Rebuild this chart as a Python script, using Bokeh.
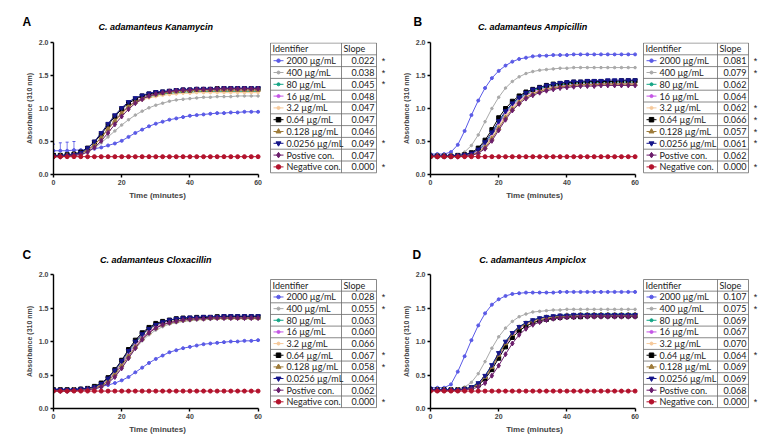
from bokeh.plotting import figure
from bokeh.layouts import column, row
from bokeh.models import Range1d, NumeralTickFormatter, FixedTicker
from bokeh.core.properties import value
from bokeh.embed import file_html
from bokeh.resources import INLINE

# ---------------- data ----------------
t = [0, 2, 4, 6, 8, 10, 12, 14, 16, 18, 20, 22, 24, 26, 28, 30,
     32, 34, 36, 38, 40, 42, 44, 46, 48, 50, 52, 54, 56, 58, 60]

identifiers = ["2000 µg/mL", "400 µg/mL", "80 µg/mL", "16 µg/mL", "3.2 µg/mL",
               "0.64 µg/mL", "0.128 µg/mL", "0.0256 µg/mL", "Postive con.", "Negative con."]

panel_letters = ["A", "B", "C", "D"]
panel_titles = ["C. adamanteus Kanamycin", "C. adamanteus Ampicillin",
                "C. adamanteus Cloxacillin", "C. adamanteus Ampiclox"]

# Panel A: Kanamycin
kan_2000 = [0.36,0.36,0.36,0.37,0.37,0.38,0.39,0.41,0.44,0.47,0.51,0.57,0.63,0.68,0.73,0.77,0.80,0.83,0.85,0.87,0.89,0.90,0.91,0.92,0.93,0.93,0.94,0.94,0.95,0.95,0.95]
kan_2000_err = [0.10,0.12,0.13,0.13,0.0,0.0,0.0,0.0,0.0,0.0,0.0,0.0,0.0,0.0,0.0,0.0,0.0,0.0,0.0,0.0,0.0,0.0,0.0,0.0,0.0,0.0,0.0,0.0,0.0,0.0,0.0]
kan_400 = [0.27,0.27,0.28,0.29,0.31,0.34,0.40,0.48,0.57,0.66,0.75,0.83,0.90,0.96,1.01,1.05,1.08,1.11,1.13,1.14,1.15,1.16,1.17,1.17,1.18,1.18,1.18,1.19,1.19,1.19,1.19]
kan_80 = [0.28,0.28,0.29,0.30,0.32,0.37,0.45,0.56,0.69,0.82,0.93,1.03,1.10,1.15,1.18,1.20,1.22,1.23,1.24,1.25,1.25,1.25,1.26,1.26,1.26,1.26,1.26,1.26,1.26,1.26,1.26]
kan_16 = [0.28,0.28,0.29,0.30,0.32,0.37,0.45,0.56,0.69,0.82,0.94,1.04,1.11,1.16,1.20,1.22,1.24,1.25,1.26,1.27,1.27,1.28,1.28,1.28,1.28,1.28,1.28,1.28,1.28,1.28,1.28]
kan_3p2 = [0.28,0.28,0.29,0.30,0.32,0.36,0.44,0.55,0.68,0.80,0.91,1.01,1.08,1.13,1.16,1.18,1.20,1.21,1.22,1.23,1.23,1.24,1.24,1.24,1.24,1.24,1.24,1.24,1.24,1.24,1.24]
kan_0p64 = [0.29,0.29,0.30,0.31,0.34,0.40,0.49,0.61,0.75,0.88,0.99,1.08,1.14,1.19,1.22,1.24,1.25,1.26,1.27,1.28,1.28,1.29,1.29,1.29,1.30,1.30,1.30,1.30,1.30,1.30,1.30]
kan_0p128 = [0.28,0.28,0.29,0.30,0.32,0.37,0.45,0.56,0.69,0.81,0.93,1.03,1.10,1.15,1.19,1.21,1.23,1.25,1.26,1.27,1.27,1.28,1.28,1.28,1.28,1.28,1.28,1.28,1.28,1.28,1.28]
kan_0p0256 = [0.28,0.28,0.29,0.30,0.33,0.40,0.50,0.63,0.77,0.90,1.01,1.10,1.16,1.20,1.23,1.25,1.26,1.27,1.28,1.29,1.29,1.30,1.30,1.30,1.30,1.31,1.31,1.31,1.31,1.31,1.31]
kan_pos = [0.27,0.27,0.28,0.29,0.30,0.34,0.41,0.51,0.63,0.76,0.88,0.99,1.08,1.14,1.19,1.22,1.24,1.26,1.27,1.28,1.28,1.29,1.29,1.29,1.30,1.30,1.30,1.30,1.30,1.30,1.30]
kan_neg = [0.27,0.27,0.27,0.27,0.27,0.27,0.27,0.27,0.27,0.27,0.27,0.27,0.27,0.27,0.27,0.27,0.27,0.27,0.27,0.27,0.27,0.27,0.27,0.27,0.27,0.27,0.27,0.27,0.27,0.27,0.27]
kan_slope = [0.022, 0.038, 0.045, 0.048, 0.047, 0.047, 0.046, 0.049, 0.047, 0.000]
kan_sig = [1, 1, 1, 0, 0, 0, 0, 1, 0, 1]

# Panel B: Ampicillin
amp_2000 = [0.31,0.31,0.31,0.34,0.45,0.66,0.90,1.12,1.31,1.46,1.57,1.65,1.71,1.75,1.77,1.79,1.80,1.80,1.81,1.81,1.81,1.82,1.82,1.82,1.82,1.82,1.82,1.82,1.82,1.82,1.82]
amp_400 = [0.29,0.29,0.29,0.29,0.30,0.34,0.44,0.60,0.80,1.00,1.17,1.31,1.41,1.48,1.53,1.56,1.58,1.59,1.60,1.61,1.61,1.62,1.62,1.62,1.62,1.62,1.62,1.62,1.62,1.62,1.62]
amp_80 = [0.28,0.28,0.28,0.28,0.28,0.29,0.31,0.36,0.46,0.61,0.78,0.94,1.06,1.15,1.22,1.27,1.30,1.33,1.35,1.36,1.37,1.38,1.39,1.39,1.39,1.40,1.40,1.40,1.40,1.40,1.40]
amp_16 = [0.28,0.28,0.28,0.28,0.28,0.29,0.31,0.35,0.45,0.59,0.76,0.92,1.04,1.13,1.20,1.25,1.28,1.31,1.33,1.34,1.35,1.36,1.37,1.37,1.37,1.38,1.38,1.38,1.38,1.38,1.38]
amp_3p2 = [0.28,0.28,0.28,0.28,0.28,0.29,0.30,0.34,0.43,0.57,0.73,0.89,1.02,1.11,1.18,1.23,1.27,1.30,1.32,1.33,1.34,1.35,1.36,1.36,1.36,1.37,1.37,1.37,1.37,1.37,1.37]
amp_0p64 = [0.28,0.28,0.28,0.28,0.29,0.30,0.33,0.40,0.52,0.68,0.86,1.00,1.11,1.19,1.25,1.29,1.32,1.35,1.37,1.38,1.39,1.40,1.40,1.41,1.41,1.41,1.41,1.41,1.42,1.42,1.42]
amp_0p128 = [0.28,0.28,0.28,0.28,0.28,0.29,0.30,0.33,0.41,0.54,0.70,0.86,0.99,1.09,1.17,1.22,1.26,1.29,1.31,1.33,1.34,1.35,1.36,1.36,1.36,1.37,1.37,1.37,1.37,1.37,1.37]
amp_0p0256 = [0.28,0.28,0.28,0.28,0.29,0.30,0.32,0.38,0.49,0.64,0.81,0.96,1.08,1.17,1.24,1.29,1.32,1.35,1.37,1.39,1.40,1.41,1.41,1.42,1.42,1.42,1.43,1.43,1.43,1.43,1.43]
amp_pos = [0.27,0.27,0.27,0.27,0.27,0.28,0.29,0.32,0.39,0.51,0.67,0.83,0.97,1.07,1.15,1.20,1.24,1.27,1.29,1.31,1.32,1.33,1.34,1.34,1.34,1.35,1.35,1.35,1.35,1.35,1.35]
amp_neg = [0.27,0.27,0.27,0.27,0.27,0.27,0.27,0.27,0.27,0.27,0.27,0.27,0.27,0.27,0.27,0.27,0.27,0.27,0.27,0.27,0.27,0.27,0.27,0.27,0.27,0.27,0.27,0.27,0.27,0.27,0.27]
amp_slope = [0.081, 0.079, 0.062, 0.064, 0.062, 0.066, 0.057, 0.061, 0.062, 0.000]
amp_sig = [1, 1, 0, 0, 1, 1, 1, 1, 0, 1]

# Panel C: Cloxacillin
clx_2000 = [0.29,0.29,0.29,0.29,0.30,0.30,0.31,0.33,0.35,0.38,0.42,0.47,0.54,0.61,0.68,0.74,0.79,0.84,0.87,0.90,0.92,0.94,0.96,0.97,0.98,0.99,1.00,1.00,1.01,1.01,1.02]
clx_400 = [0.27,0.27,0.27,0.28,0.28,0.29,0.30,0.33,0.39,0.49,0.61,0.75,0.89,1.01,1.10,1.17,1.22,1.26,1.28,1.30,1.31,1.32,1.33,1.33,1.34,1.34,1.34,1.34,1.34,1.34,1.34]
clx_80 = [0.28,0.28,0.28,0.28,0.29,0.30,0.32,0.36,0.44,0.55,0.69,0.84,0.98,1.09,1.18,1.24,1.28,1.31,1.33,1.34,1.35,1.35,1.36,1.36,1.36,1.37,1.37,1.37,1.37,1.37,1.37]
clx_16 = [0.28,0.28,0.28,0.28,0.29,0.29,0.31,0.35,0.42,0.53,0.66,0.81,0.95,1.06,1.15,1.21,1.26,1.29,1.31,1.33,1.34,1.34,1.35,1.35,1.35,1.36,1.36,1.36,1.36,1.36,1.36]
clx_3p2 = [0.28,0.28,0.28,0.28,0.29,0.30,0.32,0.36,0.44,0.55,0.70,0.85,0.99,1.10,1.18,1.24,1.28,1.31,1.33,1.34,1.35,1.35,1.35,1.36,1.36,1.36,1.36,1.36,1.36,1.36,1.36]
clx_0p64 = [0.28,0.28,0.28,0.28,0.29,0.30,0.33,0.38,0.46,0.58,0.72,0.88,1.02,1.13,1.21,1.27,1.30,1.32,1.34,1.35,1.35,1.36,1.36,1.36,1.37,1.37,1.37,1.37,1.37,1.37,1.37]
clx_0p128 = [0.27,0.27,0.27,0.28,0.28,0.29,0.31,0.34,0.41,0.51,0.64,0.78,0.92,1.04,1.13,1.20,1.25,1.28,1.30,1.32,1.33,1.34,1.34,1.35,1.35,1.35,1.35,1.35,1.35,1.35,1.35]
clx_0p0256 = [0.28,0.28,0.28,0.28,0.29,0.30,0.32,0.37,0.45,0.57,0.71,0.86,1.00,1.11,1.19,1.25,1.29,1.32,1.34,1.35,1.36,1.36,1.37,1.37,1.37,1.38,1.38,1.38,1.38,1.38,1.38]
clx_pos = [0.26,0.26,0.26,0.27,0.27,0.28,0.29,0.32,0.38,0.47,0.60,0.75,0.90,1.03,1.13,1.20,1.25,1.28,1.30,1.32,1.33,1.34,1.34,1.35,1.35,1.35,1.35,1.35,1.35,1.35,1.35]
clx_neg = [0.26,0.26,0.26,0.26,0.26,0.26,0.26,0.26,0.26,0.26,0.26,0.26,0.26,0.26,0.26,0.26,0.26,0.26,0.26,0.26,0.26,0.26,0.26,0.26,0.26,0.26,0.26,0.26,0.26,0.26,0.26]
clx_slope = [0.028, 0.055, 0.063, 0.060, 0.066, 0.067, 0.058, 0.064, 0.062, 0.000]
clx_sig = [1, 1, 0, 0, 0, 1, 1, 0, 0, 1]

# Panel D: Ampiclox
apx_2000 = [0.31,0.31,0.31,0.36,0.55,0.78,1.02,1.24,1.42,1.55,1.63,1.68,1.71,1.72,1.73,1.73,1.73,1.73,1.73,1.74,1.74,1.74,1.74,1.74,1.74,1.74,1.74,1.74,1.74,1.74,1.74]
apx_400 = [0.28,0.28,0.28,0.28,0.29,0.32,0.39,0.52,0.70,0.90,1.07,1.20,1.30,1.37,1.41,1.44,1.45,1.46,1.47,1.47,1.48,1.48,1.48,1.48,1.48,1.48,1.48,1.48,1.48,1.48,1.48]
apx_80 = [0.28,0.28,0.28,0.28,0.28,0.29,0.32,0.38,0.49,0.64,0.82,0.99,1.12,1.22,1.28,1.32,1.35,1.37,1.38,1.39,1.40,1.40,1.41,1.41,1.41,1.41,1.41,1.41,1.41,1.41,1.41]
apx_16 = [0.28,0.28,0.28,0.28,0.28,0.29,0.31,0.36,0.46,0.61,0.78,0.95,1.09,1.19,1.26,1.30,1.33,1.35,1.37,1.38,1.38,1.39,1.39,1.39,1.39,1.39,1.39,1.39,1.39,1.39,1.39]
apx_3p2 = [0.28,0.28,0.28,0.28,0.28,0.29,0.31,0.36,0.46,0.61,0.79,0.96,1.10,1.20,1.26,1.30,1.33,1.35,1.36,1.37,1.37,1.38,1.38,1.38,1.38,1.38,1.38,1.38,1.38,1.38,1.38]
apx_0p64 = [0.28,0.28,0.28,0.28,0.28,0.29,0.31,0.35,0.44,0.58,0.75,0.92,1.06,1.16,1.23,1.28,1.31,1.33,1.35,1.36,1.37,1.37,1.37,1.38,1.38,1.38,1.38,1.38,1.38,1.38,1.38]
apx_0p128 = [0.28,0.28,0.28,0.28,0.28,0.29,0.31,0.36,0.47,0.62,0.80,0.97,1.11,1.21,1.27,1.31,1.34,1.36,1.37,1.38,1.39,1.39,1.40,1.40,1.40,1.40,1.40,1.40,1.40,1.40,1.40]
apx_0p0256 = [0.28,0.28,0.28,0.28,0.28,0.29,0.32,0.38,0.49,0.65,0.83,1.00,1.13,1.22,1.28,1.32,1.35,1.37,1.38,1.39,1.39,1.40,1.40,1.40,1.40,1.40,1.40,1.40,1.40,1.40,1.40]
apx_pos = [0.27,0.27,0.27,0.27,0.27,0.28,0.29,0.32,0.38,0.49,0.64,0.81,0.97,1.10,1.19,1.25,1.29,1.32,1.34,1.35,1.36,1.36,1.37,1.37,1.37,1.37,1.37,1.37,1.37,1.37,1.37]
apx_neg = [0.26,0.26,0.26,0.26,0.26,0.26,0.26,0.26,0.26,0.26,0.26,0.26,0.26,0.26,0.26,0.26,0.26,0.26,0.26,0.26,0.26,0.26,0.26,0.26,0.26,0.26,0.26,0.26,0.26,0.26,0.26]
apx_slope = [0.107, 0.075, 0.069, 0.067, 0.070, 0.064, 0.069, 0.069, 0.068, 0.000]
apx_sig = [1, 1, 0, 0, 0, 1, 0, 0, 0, 1]

x_ticks = [0, 20, 40, 60]
y_ticks = [0.0, 0.5, 1.0, 1.5, 2.0]

# ---------------- styles ----------------
colors = ["#5a5ae6", "#a9a9a9", "#14a585", "#c455e6", "#f6c99a",
          "#000000", "#9e7b3a", "#16168a", "#6b1d6b", "#b3122c"]
markers = ["circle", "circle", "circle", "circle", "circle",
           "square", "triangle", "inverted_triangle", "diamond", "circle"]
msizes = [3, 2.5, 2.5, 2.5, 2.5, 4, 4.5, 4.5, 5, 4]

AX_FONT = "Liberation Sans"
TB_FONT = "Lato"
W_TOTAL = 776


def blank(W, H, bl=0, br=0, bt=0, bb=0, yr=None):
    f = figure(width=W, height=H, output_backend="svg", toolbar_location=None,
               x_range=Range1d(0, W), y_range=yr if yr is not None else Range1d(H, 0),
               x_axis_location=None, y_axis_location=None,
               min_border_left=bl, min_border_right=br,
               min_border_top=bt, min_border_bottom=bb,
               background_fill_color="white", border_fill_color="white")
    f.outline_line_color = None
    f.grid.visible = False
    return f


def make_header(H, letters, titles, letter_x, letter_y, title_x, title_y):
    h = blank(W_TOTAL, H)
    h.text(x=letter_x, y=[letter_y] * len(letters), text=letters,
           text_font=value(AX_FONT), text_font_style="bold", text_font_size="12px",
           text_baseline="middle", text_align="left", text_color="black")
    h.text(x=title_x, y=[title_y] * len(titles), text=titles,
           text_font=value(AX_FONT), text_font_style="bold italic", text_font_size="9px",
           text_baseline="middle", text_align="center", text_color="black")
    return h


def make_plot(series, W, H, bl, bt, fw, fh, err=None):
    p = figure(width=W, height=H, output_backend="svg", toolbar_location=None,
               x_range=Range1d(0, 61), y_range=Range1d(0, 2),
               min_border_left=bl, min_border_top=bt,
               min_border_right=W - bl - fw, min_border_bottom=H - bt - fh,
               background_fill_color="white", border_fill_color="white")
    p.outline_line_color = None
    p.grid.visible = False
    p.xaxis.bounds = (0, 60)
    p.xaxis.ticker = FixedTicker(ticks=x_ticks)
    p.yaxis.ticker = FixedTicker(ticks=y_ticks)
    p.yaxis.formatter = NumeralTickFormatter(format="0.0")
    p.xaxis.axis_label = "Time (minutes)"
    p.yaxis.axis_label = "Absorbance (310 nm)"
    for ax in (p.xaxis[0], p.yaxis[0]):
        ax.axis_line_width = 1.4
        ax.major_tick_line_width = 1.4
        ax.major_tick_out = 3
        ax.major_tick_in = 0
        ax.minor_tick_line_color = None
        ax.major_label_text_font = AX_FONT
        ax.major_label_text_font_style = "bold"
        ax.major_label_text_font_size = "7px"
        ax.major_label_standoff = 2
        ax.axis_label_text_font = AX_FONT
        ax.axis_label_text_font_style = "bold"
        ax.axis_label_standoff = 3
    p.xaxis.axis_label_text_font_size = "8px"
    p.yaxis.axis_label_text_font_size = "7px"

    for i, ys in enumerate(series):
        p.line(t, ys, color=colors[i], line_width=1)
        if i == 0 and err is not None:
            top = [y + e for y, e in zip(ys, err)]
            p.segment(x0=t, y0=ys, x1=t, y1=top, color=colors[i], line_width=0.8)
            p.scatter(t, top, marker="dash", size=3, color=colors[i])
        p.scatter(t, ys, marker=markers[i], size=msizes[i], color=colors[i])
    return p


def make_table(slopes, sig, W, H, bt, fh, left, right, split, top, rowh, star_x):
    tb = blank(W, H, bt=bt, bb=H - bt - fh, yr=Range1d(bt + fh, bt))
    n = len(identifiers) + 1
    hy = [top + k * rowh for k in range(n + 1)]
    tb.segment(x0=[left] * len(hy), x1=[right] * len(hy), y0=hy, y1=hy,
               color="#6a6a6a", line_width=0.8)
    bottom = hy[-1]
    tb.segment(x0=[left, split, right], x1=[left, split, right],
               y0=[top] * 3, y1=[bottom] * 3, color="#6a6a6a", line_width=0.8)
    yc = [top + (k + 1.5) * rowh for k in range(len(identifiers))]
    tb.text(x=[left + 2, split + 2], y=[top + 0.5 * rowh] * 2, text=["Identifier", "Slope"],
            text_font=value(TB_FONT), text_font_size="9px", text_baseline="middle",
            text_color="#222222")
    tb.segment(x0=[left + 3] * len(yc), x1=[left + 13] * len(yc), y0=yc, y1=yc,
               color=colors, line_width=1)
    for i in range(len(identifiers)):
        tb.scatter([left + 8], [yc[i]], marker=markers[i], size=msizes[i] + 0.5,
                   color=colors[i])
    tb.text(x=[left + 16] * len(yc), y=yc, text=identifiers,
            text_font=value(TB_FONT), text_font_size="9px", text_baseline="middle",
            text_color="#222222")
    tb.text(x=[right - 2] * len(yc), y=yc, text=["%.3f" % s for s in slopes],
            text_font=value(TB_FONT), text_font_size="9px", text_baseline="middle",
            text_align="right", text_color="#222222")
    sy = [yc[i] for i in range(len(sig)) if sig[i]]
    tb.text(x=[star_x] * len(sy), y=sy, text=["*"] * len(sy),
            text_font=value(AX_FONT), text_font_size="9px", text_baseline="middle",
            text_align="center", text_color="#222222")
    return tb


kan = [kan_2000, kan_400, kan_80, kan_16, kan_3p2, kan_0p64, kan_0p128, kan_0p0256, kan_pos, kan_neg]
amp = [amp_2000, amp_400, amp_80, amp_16, amp_3p2, amp_0p64, amp_0p128, amp_0p0256, amp_pos, amp_neg]
clx = [clx_2000, clx_400, clx_80, clx_16, clx_3p2, clx_0p64, clx_0p128, clx_0p0256, clx_pos, clx_neg]
apx = [apx_2000, apx_400, apx_80, apx_16, apx_3p2, apx_0p64, apx_0p128, apx_0p0256, apx_pos, apx_neg]

# layout geometry (pixels)
WA, WTA, WB, WTB = 264, 130, 246, 136
BL_A, BL_B, FW = 53, 36, 208
HH1, H1, HH2, H2 = 34, 191, 41, 176
frame_mid_A = BL_A + FW * 30 / 61
frame_mid_B = WA + WTA + BL_B + FW * 30 / 61

hdr1 = make_header(HH1, panel_letters[:2], panel_titles[:2],
                   [22, 413], 21, [frame_mid_A, frame_mid_B], 26)
pA = make_plot(kan, WA, H1, BL_A, 8, FW, 132, err=kan_2000_err)
tA = make_table(kan_slope, kan_sig, WTA, H1, 8, 132, 6, 112, 77, 8.5, 11.8, 119)
pB = make_plot(amp, WB, H1, BL_B, 8, FW, 132)
tB = make_table(amp_slope, amp_sig, WTB, H1, 8, 132, 3, 108, 77, 8.5, 11.8, 115)

hdr2 = make_header(HH2, panel_letters[2:], panel_titles[2:],
                   [22, 412], 29, [frame_mid_A, frame_mid_B], 34)
pC = make_plot(clx, WA, H2, BL_A, 8, FW, 134)
tC = make_table(clx_slope, clx_sig, WTA, H2, 8, 134, 6, 112, 77, 13, 11.65, 119)
pD = make_plot(apx, WB, H2, BL_B, 8, FW, 134)
tD = make_table(apx_slope, apx_sig, WTB, H2, 8, 134, 3, 108, 77, 13, 11.65, 115)

layout = column(hdr1, row(pA, tA, pB, tB), hdr2, row(pC, tC, pD, tD))

with open("out.html", "w") as f:
    f.write(file_html(layout, INLINE))
